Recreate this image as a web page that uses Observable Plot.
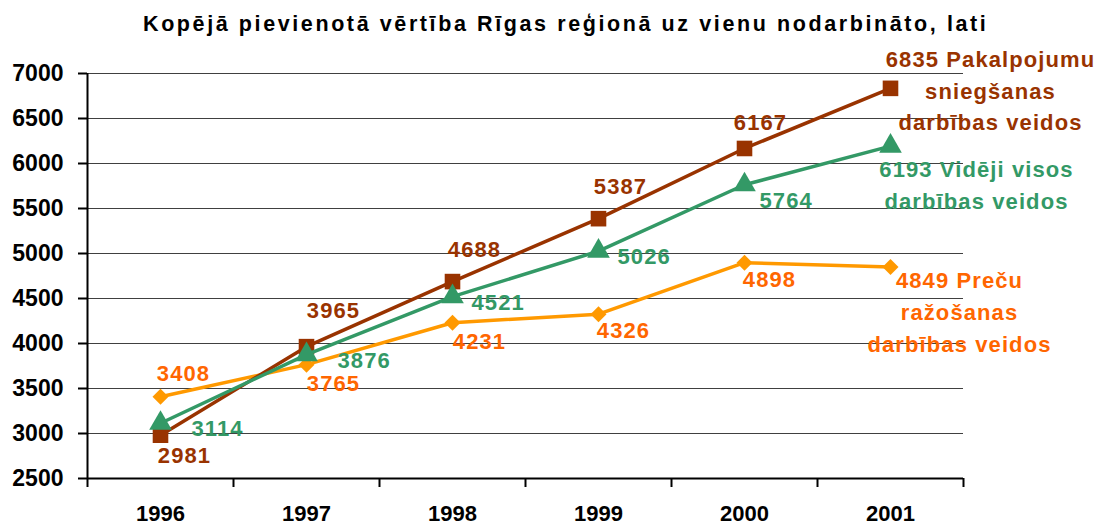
<!DOCTYPE html>
<html><head><meta charset="utf-8">
<script src="https://cdn.jsdelivr.net/npm/d3@7"></script>
<script src="https://cdn.jsdelivr.net/npm/@observablehq/plot@0.6"></script>
<style>
body{margin:0;background:#fff;font-family:"Liberation Sans",Arial,sans-serif;}
#wrap{position:relative;width:1099px;height:526px;}
#title{position:absolute;left:143px;top:12px;line-height:24px;white-space:nowrap;font-weight:bold;font-size:21.5px;letter-spacing:2.6px;color:#000;}
#chart{position:absolute;left:0;top:40px;}
</style></head>
<body><div id="wrap"><div id="title">Kopējā pievienotā vērtība Rīgas reģionā uz vienu nodarbināto, lati</div><div id="chart"></div></div>
<script>
const years = [1996, 1997, 1998, 1999, 2000, 2001];
const services = [2981, 3965, 4688, 5387, 6167, 6835];
const average = [3114, 3876, 4521, 5026, 5764, 6193];
const goods = [3408, 3765, 4231, 4326, 4898, 4849];
const names = ["Pakalpojumu\nsniegšanas\ndarbības veidos", "Vidēji visos\ndarbības veidos", "Preču\nražošanas\ndarbības veidos"];
const yTicks = [2500, 3000, 3500, 4000, 4500, 5000, 5500, 6000, 6500, 7000];

const BROWN = "#993300", GREEN = "#339966", ORANGE = "#FF9900", ORANGE_T = "#FF6600";
const rows = (vals) => years.map((yr, i) => ({year: yr, value: vals[i], i}));
const S = rows(services), A = rows(average), G = rows(goods);
const boundaries = d3.range(years.length + 1).map(k => years[0] - 0.5 + k);

const font = {fontSize: 22, fontWeight: "bold"};
const lbl = (data, idx, color, dx, dy, anchor = "middle") =>
  Plot.text(data.filter(d => idx.includes(d.i)), {x: "year", y: "value", text: d => String(d.value), fill: color, dx, dy, textAnchor: anchor, ...font});
const last = (data, k, color, dx, dy) =>
  Plot.text([data[data.length - 1]], {x: "year", y: "value", text: d => d.value + " " + names[k], fill: color, dx, dy, lineHeight: 1.45, textAnchor: "middle", ...font});

const chart = Plot.plot({
  width: 1099, height: 486,
  marginLeft: 87, marginRight: 136, marginTop: 33, marginBottom: 48,
  style: {fontFamily: "'Liberation Sans', Arial, sans-serif", background: "white"},
  x: {domain: [years[0] - 0.5, years[years.length - 1] + 0.5]},
  y: {domain: [2500, 7000]},
  marks: [
    Plot.gridY(yTicks.slice(1), {stroke: "#404040", strokeOpacity: 1, strokeWidth: 1}),
    Plot.axisY(yTicks, {tickSize: 9, tickPadding: 15, tickFormat: d => String(d), fontSize: 23, fontWeight: "bold", stroke: "#000", strokeWidth: 2, fill: "#000", label: null}),
    Plot.axisX(boundaries, {tickSize: 9, tickFormat: () => "", stroke: "#000", strokeWidth: 2, label: null}),
    Plot.axisX(years, {tickSize: 0, tickPadding: 27, tickFormat: d => String(d), fontSize: 22, fontWeight: "bold", fill: "#000", label: null}),
    Plot.ruleX([years[0] - 0.5], {stroke: "#000", strokeWidth: 2}),
    Plot.ruleY([2500], {stroke: "#000", strokeWidth: 2}),
    Plot.line(G, {x: "year", y: "value", stroke: ORANGE, strokeWidth: 3.5}),
    Plot.dot(G, {x: "year", y: "value", symbol: "diamond2", r: 7.2, fill: ORANGE, stroke: "none"}),
    Plot.line(S, {x: "year", y: "value", stroke: BROWN, strokeWidth: 3.5}),
    Plot.dot(S, {x: "year", y: "value", symbol: "square", r: 8.8, fill: BROWN, stroke: "none"}),
    Plot.line(A, {x: "year", y: "value", stroke: GREEN, strokeWidth: 3.5}),
    Plot.dot(A, {x: "year", y: "value", symbol: "triangle", r: 8.4, fill: GREEN, stroke: "none"}),
    // brown labels
    lbl(S, [0], BROWN, 24, 21),
    lbl(S, [1], BROWN, 27, -36),
    lbl(S, [2, 3], BROWN, 22, -32),
    lbl(S, [4], BROWN, 16, -26),
    last(S, 0, BROWN, 100, 0),
    // green labels
    lbl(A, [0, 1], GREEN, 31, 6, "start"),
    lbl(A, [2, 3], GREEN, 19, 6, "start"),
    lbl(A, [4], GREEN, 15, 16, "start"),
    last(A, 1, GREEN, 86, 37),
    // orange labels
    lbl(G, [0], ORANGE_T, 23, -23),
    lbl(G, [1, 2], ORANGE_T, 27, 19),
    lbl(G, [3, 4], ORANGE_T, 25, 17),
    last(G, 2, ORANGE_T, 69, 43)
  ]
});
d3.select(chart).selectAll("g[aria-label='text'] text").style("letter-spacing", "1.1px");
document.getElementById("chart").appendChild(chart);
</script></body></html>
